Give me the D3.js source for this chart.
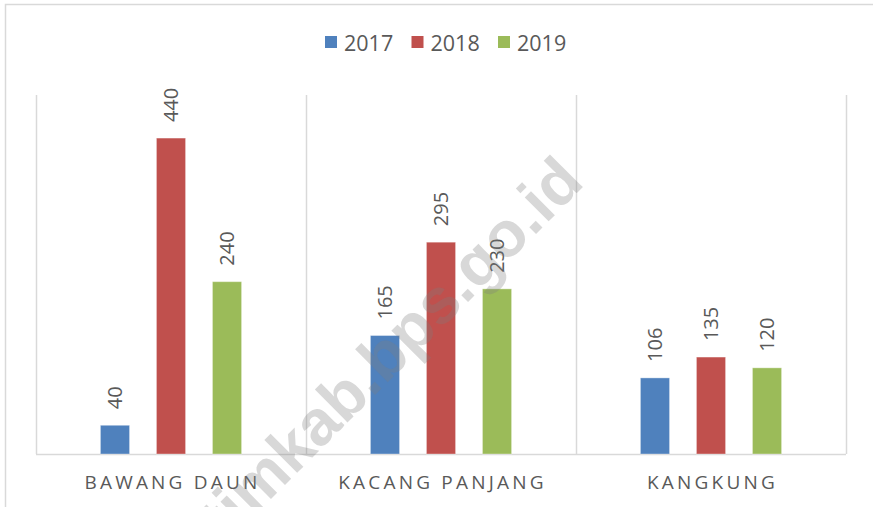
<!DOCTYPE html>
<html>
<head>
<meta charset="utf-8">
<script src="https://cdn.jsdelivr.net/npm/d3@7"></script>
<style>
  body { margin: 0; background: #fff; }
  svg { display: block; font-family: "Open Sans", sans-serif; }
</style>
</head>
<body>
<svg id="chart" width="873" height="507"></svg>
<script>
const categories = ["BAWANG DAUN", "KACANG PANJANG", "KANGKUNG"]
const series = ["2017", "2018", "2019"]
const values2017 = [40, 165, 106]
const values2018 = [440, 295, 135]
const values2019 = [240, 230, 120]
const colors = ["#4f81bd", "#c0504d", "#9bbb59"]

const rows = categories.map((c, i) => ({
    name: c,
    vals: [values2017[i], values2018[i], values2019[i]]
}))

const width = 873
const height = 507
const margin = { top: 95, left: 36, right: 27, bottom: 53 }

const svg = d3.select("#chart")

// outer frame (cut off at right and bottom like the source)
svg.append("rect")
    .attr("x", 5.5).attr("y", 4.5)
    .attr("width", 900).attr("height", 600)
    .attr("fill", "none")
    .attr("stroke", "#d9d9d9")
    .attr("stroke-width", 1.5)

const x0 = d3.scaleBand()
    .domain(categories)
    .range([margin.left, width - margin.right])

const x1 = d3.scaleBand()
    .domain(series)
    .range([0, x0.bandwidth()])
    .paddingInner(0.48)
    .paddingOuter(1.15)

const y = d3.scaleLinear()
    .domain([0, 500])
    .range([height - margin.bottom, margin.top])

const color = d3.scaleOrdinal().domain(series).range(colors)

// vertical separators between categories
const edges = categories.map(c => x0(c)).concat([x0(categories[categories.length - 1]) + x0.bandwidth()])
svg.append("g")
    .selectAll("line")
    .data(edges)
    .join("line")
    .attr("x1", d => Math.round(d) + 0.5)
    .attr("x2", d => Math.round(d) + 0.5)
    .attr("y1", y(500))
    .attr("y2", y(0))
    .attr("stroke", "#d9d9d9")
    .attr("stroke-width", 1.5)

// baseline
svg.append("line")
    .attr("x1", x0.range()[0]).attr("x2", x0.range()[1])
    .attr("y1", y(0) + 0.5).attr("y2", y(0) + 0.5)
    .attr("stroke", "#d9d9d9")
    .attr("stroke-width", 1.5)

// bars
const groups = svg.append("g")
    .selectAll("g")
    .data(rows)
    .join("g")
    .attr("transform", d => `translate(${x0(d.name)},0)`)

groups.selectAll("rect")
    .data(d => d.vals.map((v, i) => ({ key: series[i], value: v })))
    .join("rect")
    .attr("x", d => x1(d.key))
    .attr("y", d => y(d.value))
    .attr("width", x1.bandwidth())
    .attr("height", d => y(0) - y(d.value))
    .attr("fill", d => color(d.key))
    .attr("stroke", "rgba(255,255,255,0.35)")
    .attr("stroke-width", 1)

// value labels, rotated
groups.selectAll("text")
    .data(d => d.vals.map((v, i) => ({ key: series[i], value: v })))
    .join("text")
    .attr("transform", d => `translate(${x1(d.key) + x1.bandwidth() / 2},${y(d.value) - 16}) rotate(-90)`)
    .attr("dy", "0.36em")
    .attr("font-size", 20)
    .attr("fill", "#595959")
    .text(d => d.value)

// category labels
svg.append("g")
    .selectAll("text")
    .data(categories)
    .join("text")
    .attr("x", d => x0(d) + x0.bandwidth() / 2 + 1.5)
    .attr("y", 489)
    .attr("text-anchor", "middle")
    .attr("font-size", 19)
    .attr("letter-spacing", "3.2px")
    .attr("fill", "#595959")
    .text(d => d)

// legend
const legend = svg.append("g")
    .selectAll("g")
    .data(series)
    .join("g")
    .attr("transform", (d, i) => `translate(${325 + i * 86.5},36)`)

legend.append("rect")
    .attr("width", 12).attr("height", 12)
    .attr("fill", d => color(d))

legend.append("text")
    .attr("x", 19)
    .attr("y", 14.5)
    .attr("font-size", 21.5)
    .attr("fill", "#595959")
    .text(d => d)

// watermark
svg.append("text")
    .attr("transform", "translate(406,364) rotate(-45)")
    .attr("text-anchor", "middle")
    .attr("font-family", "Liberation Sans, Arial, sans-serif")
    .attr("font-weight", "bold")
    .attr("font-size", 64)
    .attr("fill", "#7f7f7f")
    .attr("fill-opacity", 0.3)
    .text("timkab.bps.go.id")
</script>
</body>
</html>
